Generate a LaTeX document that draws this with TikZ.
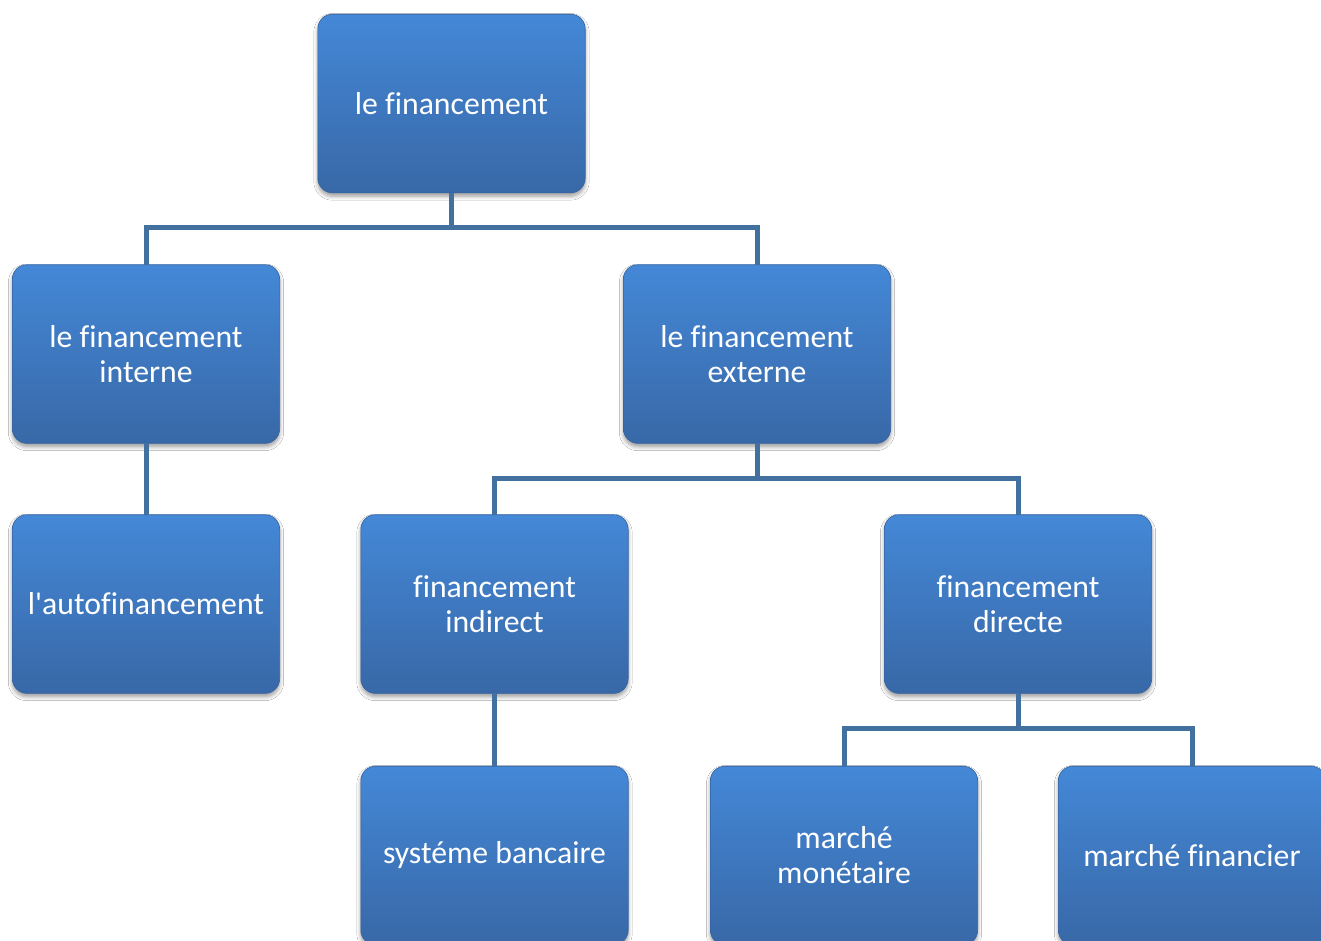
\documentclass[tikz,border=0pt]{standalone}
\usepackage{fontspec}
\newfontfamily\boxfont{Carlito}[Ligatures={TeXOff,CommonOff}]
\usetikzlibrary{shadows.blur,calc}
\definecolor{boxtop}{RGB}{68,136,215}
\definecolor{boxbot}{RGB}{56,104,167}
\definecolor{boxedge}{RGB}{55,100,160}
\definecolor{linkc}{RGB}{66,113,160}
\tikzset{
  orgbox/.style={rectangle, rounded corners=11pt, minimum width=200.5pt, minimum height=134pt,
    inner sep=0pt, outer sep=0pt, top color=boxtop, bottom color=boxbot, draw=boxedge, line width=0.5pt,
    text=white, align=center, font=\boxfont\fontsize{23.8}{26.3}\selectfont,
    blur shadow={shadow xshift=0pt, shadow yshift=-2.5pt, shadow blur steps=6, shadow blur radius=3pt, shadow opacity=40}},
  link/.style={draw=linkc, line width=3.75pt, line cap=butt, line join=miter}
}
\begin{document}
\begin{tikzpicture}[x=0.75pt,y=-0.75pt]
\useasboundingbox (0,0) rectangle (1321,940);
\clip (0,0) rectangle (1321,940);
\fill[white] (0,0) rectangle (1321,940);
% boxes
\node[orgbox] (A) at (451.5,103.5) {le financement};
\node[orgbox] (B) at (146,354) {le financement\\interne};
\node[orgbox] (C) at (757,354) {le financement\\externe};
\node[orgbox] (D) at (146,604) {l'autofinancement};
\node[orgbox] (E) at (494.5,604) {financement\\indirect};
\node[orgbox] (F) at (1018,604) {financement\\directe};
\node[orgbox] (G) at (494.5,855.5) {systéme bancaire};
\node[orgbox] (H) at (844,855.5) {marché\\monétaire};
\node[orgbox] (I) at (1192,855.5) {marché financier};
% connectors
\coordinate (a1) at ($(A.south)+(0,35)$);
\coordinate (c1) at ($(C.south)+(0,35.5)$);
\coordinate (f1) at ($(F.south)+(0,35.5)$);
\draw[link] (A.south) -- (a1);
\draw[link] (a1) -| (B.north);
\draw[link] (a1) -| (C.north);
\draw[link] (B.south) -- (D.north);
\draw[link] (C.south) -- (c1);
\draw[link] (c1) -| (E.north);
\draw[link] (c1) -| (F.north);
\draw[link] (E.south) -- (G.north);
\draw[link] (F.south) -- (f1);
\draw[link] (f1) -| (H.north);
\draw[link] (f1) -| (I.north);
\end{tikzpicture}
\end{document}
